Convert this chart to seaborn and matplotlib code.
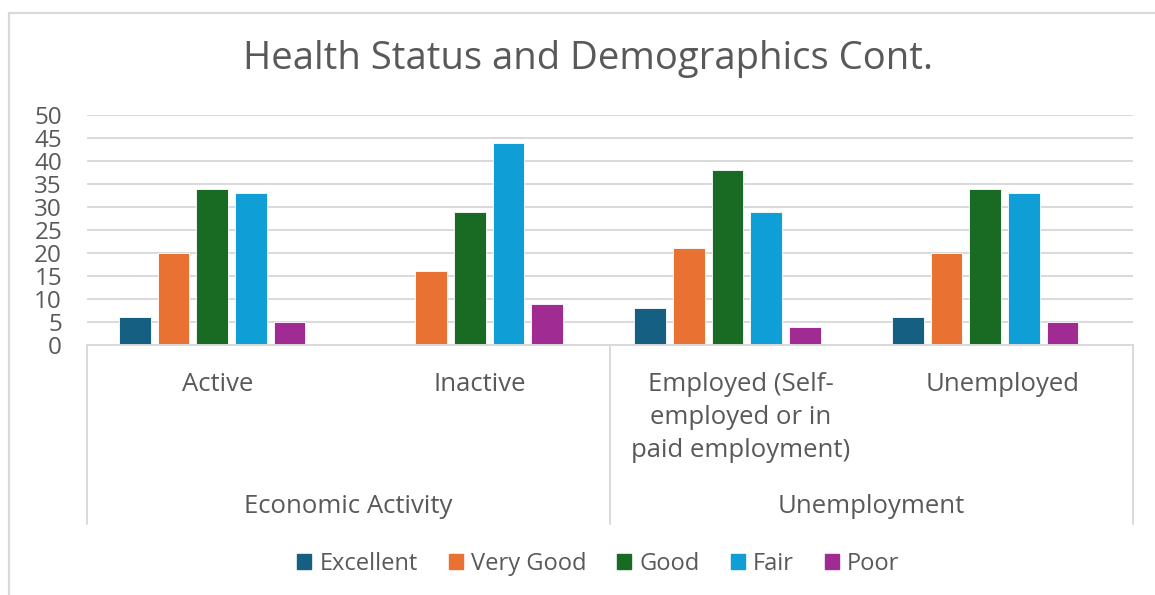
import seaborn as sns
import matplotlib.pyplot as plt
import matplotlib.patches as mpatches
import pandas as pd

# Datos del gráfico
categorias = ['Active', 'Inactive',
              'Employed (Self-\nemployed or in\npaid employment)', 'Unemployed']
grupos = ['Economic Activity', 'Unemployment']
estados = ['Excellent', 'Very Good', 'Good', 'Fair', 'Poor']
excellent = [6, 0, 8, 6]
very_good = [20, 16, 21, 20]
good = [34, 29, 38, 34]
fair = [33, 44, 29, 33]
poor = [5, 9, 4, 5]
y_ticks = [0, 5, 10, 15, 20, 25, 30, 35, 40, 45, 50]

colores = ['#156082', '#E97132', '#196B24', '#0F9ED5', '#A02B93']
gris = '#595959'
linea = '#D9D9D9'

series = [excellent, very_good, good, fair, poor]
filas = []
for estado, valores in zip(estados, series):
    for cat, v in zip(categorias, valores):
        filas.append({'Categoria': cat, 'Estado': estado, 'Valor': v})
df = pd.DataFrame(filas)

sns.set_style("white")
plt.rcParams['font.family'] = ['Open Sans', 'DejaVu Sans']

fig = plt.figure(figsize=(11.55, 5.95), dpi=100)
ax = fig.add_axes([87 / 1155, 1 - 345 / 595, 1046 / 1155, 230 / 595])

sns.barplot(data=df, x='Categoria', y='Valor', hue='Estado', order=categorias,
            hue_order=estados, palette=colores, saturation=1, width=0.75,
            gap=0.18, edgecolor='white', linewidth=0.6, legend=False, ax=ax)

ax.set_ylim(0, 50)
ax.set_xlim(-0.486, 3.574)
ax.set_yticks(y_ticks)
ax.set_yticklabels([str(t) for t in y_ticks], fontsize=17.5, color=gris)
ax.tick_params(axis='y', length=0, pad=18)
ax.set_xticks([])
ax.set_xlabel('')
ax.set_ylabel('')
ax.yaxis.grid(True, color=linea, linewidth=1.4)
ax.set_axisbelow(True)
for s in ['top', 'right', 'left']:
    ax.spines[s].set_visible(False)
ax.spines['bottom'].set_color(linea)
ax.spines['bottom'].set_linewidth(1.4)

# Eje de categorías con dos niveles
for xf in [0, 0.5, 1]:
    ax.plot([xf, xf], [0, -0.778], transform=ax.transAxes, color=linea,
            linewidth=1.4, clip_on=False)
for i, cat in enumerate(categorias):
    ax.text(0.125 + 0.25 * i, -0.118, cat, transform=ax.transAxes, ha='center',
            va='top', fontsize=18.5, color=gris, linespacing=1.42)
for i, g in enumerate(grupos):
    ax.text(0.25 + 0.5 * i, -0.704, g, transform=ax.transAxes, ha='center',
            va='center', fontsize=18.5, color=gris)

fig.text(0.509, 0.9, 'Health Status and Demographics Cont.', ha='center',
         va='center', fontsize=27.5, color=gris)

handles = [mpatches.Patch(color=c, label=e) for c, e in zip(colores, estados)]
fig.legend(handles=handles, loc='center', bbox_to_anchor=(0.518, 0.052),
           ncol=5, frameon=False, fontsize=17, handlelength=0.6,
           handleheight=0.6, handletextpad=0.35, columnspacing=1.3,
           labelcolor=gris)

# Borde del gráfico
fig.add_artist(plt.Line2D([9 / 1155, 9 / 1155], [0, 1 - 13 / 595],
                          color=linea, linewidth=1.6))
fig.add_artist(plt.Line2D([9 / 1155, 1], [1 - 13 / 595, 1 - 13 / 595],
                          color=linea, linewidth=1.6))

fig.savefig('out.png', dpi=100)
